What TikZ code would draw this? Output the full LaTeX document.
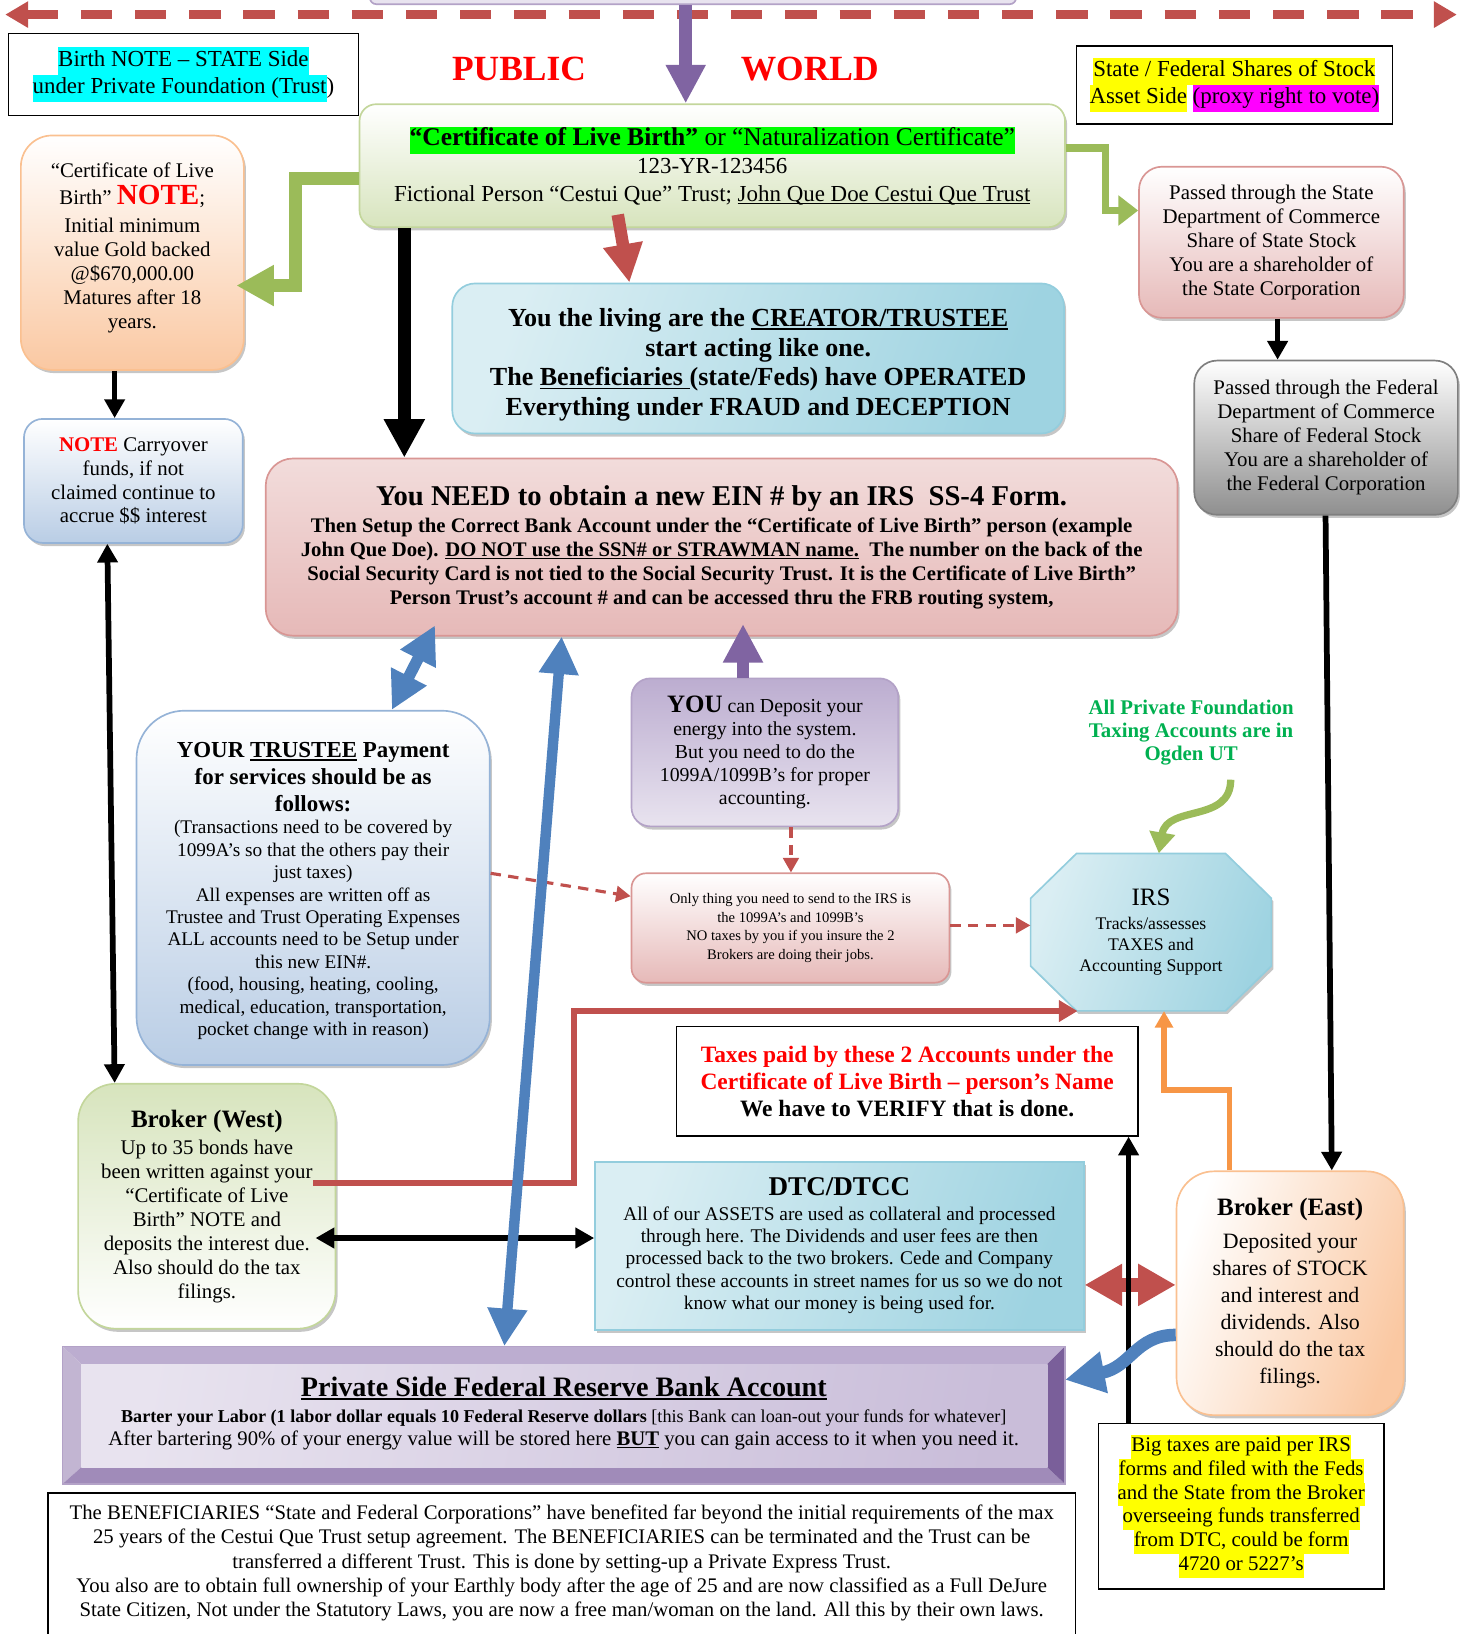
\documentclass[tikz,border=0pt]{standalone}
\usepackage{fontspec}
\setmainfont{Liberation Serif}
\usetikzlibrary{arrows.meta,shadows}
\definecolor{accred}{HTML}{C0504D}
\definecolor{accgreen}{HTML}{9BBB59}
\definecolor{accpurple}{HTML}{8064A2}
\definecolor{accblue}{HTML}{4F81BD}
\definecolor{accorange}{HTML}{F79646}
\definecolor{hlgreen}{HTML}{00FF00}
\definecolor{hlcyan}{HTML}{00FFFF}
\definecolor{hlyellow}{HTML}{FFFF00}
\definecolor{hlmagenta}{HTML}{FF00FF}
\definecolor{txtred}{HTML}{FF0000}
\definecolor{txtgreen}{HTML}{00B050}
\definecolor{certline}{HTML}{C3D69B}
\definecolor{certfill}{HTML}{D7E4BD}
\definecolor{orline}{HTML}{FAC090}
\definecolor{orfill}{HTML}{FAC8A2}
\definecolor{bluline}{HTML}{95B3D7}
\definecolor{blufill}{HTML}{B9CDE5}
\definecolor{aqline}{HTML}{93CDDD}
\definecolor{aqdark}{HTML}{9ED3E1}
\definecolor{aqlight}{HTML}{DAEEF3}
\definecolor{pkline}{HTML}{D99694}
\definecolor{pkfill}{HTML}{E6B9B8}
\definecolor{pklight}{HTML}{F2DCDB}
\definecolor{gyline}{HTML}{7F7F7F}
\definecolor{gyfill}{HTML}{8F8F8F}
\definecolor{puline}{HTML}{B3A2C7}
\definecolor{pufill}{HTML}{BCADD0}
\definecolor{pulight}{HTML}{E8E3EF}
\newsavebox{\undlbox}
\newcommand{\undl}[1]{\sbox{\undlbox}{#1}\rlap{\rule[-.14em]{\wd\undlbox}{.065em}}\usebox{\undlbox}}
\newcommand{\hlt}[2]{{\setlength{\fboxsep}{0pt}\colorbox{#1}{\strut#2}}}
\newcommand{\fsz}[2]{\fontsize{#1}{#2}\selectfont}
\begin{document}
\begin{tikzpicture}[x=1pt,y=-1pt,
  box/.style={draw,align=center,inner sep=0pt,line width=1.6pt},
  shd/.style={drop shadow={shadow xshift=2pt,shadow yshift=-3pt,opacity=.45,fill=gray}},
  blk/.style={line width=5.5pt,-{Triangle[length=18pt,width=19pt]}},
  blkboth/.style={line width=5.5pt,{Triangle[length=18pt,width=19pt]}-{Triangle[length=18pt,width=19pt]}},
  fatblk/.style={line width=12pt,-{Triangle[length=37pt,width=37pt]}},
  fatred/.style={accred,line width=12pt,-{Triangle[length=37pt,width=36pt]}},
  fatpurple/.style={accpurple,line width=12pt,-{Triangle[length=37pt,width=36pt]}},
  fatblue/.style={accblue,line width=11pt,{Triangle[length=36pt,width=36pt]}-{Triangle[length=36pt,width=36pt]}},
  fatgreen/.style={accgreen,line width=12.5pt,-{Triangle[length=36pt,width=37pt]}},
  reddash/.style={accred,line width=3pt,dash pattern=on 10pt off 7pt,-{Triangle[length=14pt,width=15pt]}}]
\useasboundingbox (0,0) rectangle (1413,1568);

% top of the picture
\node[fill=pulight,draw=puline,line width=1.6pt,rounded corners=6pt,minimum width=620pt,minimum height=20pt] (top) at (665,-6) {};
\coordinate (wl) at (5,14);
\coordinate (wr) at (1398,14);
\draw[accred,line width=8pt,dash pattern=on 30pt off 22pt,{Triangle[length=22pt,width=24pt]}-{Triangle[length=22pt,width=24pt]}] (wl) -- (wr);

\node[box,line width=1.4pt,minimum width=336pt,minimum height=79pt,font=\fsz{22}{26}] (note) at (176,71.5)
  {\hlt{hlcyan}{Birth NOTE – STATE Side}\\\hlt{hlcyan}{under Private Foundation (Trust})};
\node[font=\bfseries\fsz{34}{38},text=txtred] (pub) at (498,66) {PUBLIC};
\node[font=\bfseries\fsz{34}{38},text=txtred] (world) at (777,66) {WORLD};
\node[box,line width=1.4pt,minimum width=303pt,minimum height=75pt,font=\fsz{22}{26}] (stock) at (1184.5,81.5)
  {\hlt{hlyellow}{State / Federal Shares of Stock}\\\hlt{hlyellow}{Asset Side} \hlt{hlmagenta}{(proxy right to vote)}};

% boxes
\node[box,shd,rounded corners=16pt,draw=certline,top color=white,bottom color=certfill,minimum width=677pt,minimum height=118pt,font=\fsz{22}{26.5}] (cert) at (683.5,159)
  {{\fsz{24.5}{26.5}\hlt{hlgreen}{\textbf{“Certificate of Live Birth”} or “Naturalization Certificate”}}\\123-YR-123456\\Fictional Person “Cestui Que” Trust; \undl{John Que Doe Cestui Que Trust}};
\node[box,shd,rounded corners=30pt,draw=orline,top color=white,bottom color=orfill,minimum width=214pt,minimum height=225pt,font=\fsz{20}{23}] (goldnote) at (127,242.5)
  {“Certificate of Live\\[3pt]Birth” {\color{txtred}\bfseries\fsz{28}{28}NOTE};\\[4pt]Initial minimum\\value Gold backed\\@\$670,000.00\\Matures after 18\\years.\\[-9pt]\mbox{}};
\node[box,shd,rounded corners=18pt,draw=bluline,top color=white,bottom color=blufill,minimum width=210pt,minimum height=119pt,font=\fsz{20}{23}] (carry) at (128,461.5)
  {{\color{txtred}\bfseries NOTE} Carryover\\funds, if not\\claimed continue to\\accrue \$\$ interest};
\node[box,shd,rounded corners=22pt,draw=aqline,left color=aqlight,right color=aqdark,shading angle=70,minimum width=587pt,minimum height=144pt,font=\bfseries\fsz{25}{28.5}] (creator) at (727.5,344)
  {\mbox{}\\[1pt]You the living are the \undl{CREATOR/TRUSTEE}\\start acting like one.\\The \undl{Beneficiaries }(state/Feds) have OPERATED\\Everything under FRAUD and DECEPTION};
\node[box,shd,rounded corners=26pt,draw=pkline,top color=pklight,bottom color=pkfill,minimum width=875pt,minimum height=170pt,font=\bfseries\fsz{19.9}{23}] (need) at (692.5,525)
  {{\fsz{27.5}{30}You NEED to obtain a new EIN \# by an IRS~~SS-4 Form.}\\[3pt]Then Setup the Correct Bank Account under the “Certificate of Live Birth” person (example\\John Que Doe). \undl{DO NOT use the SSN\# or STRAWMAN name.}~~The number on the back of the\\Social Security Card is not tied to the Social Security Trust. It is the Certificate of Live Birth”\\Person Trust’s account \# and can be accessed thru the FRB routing system,};
\node[box,shd,rounded corners=22pt,draw=pkline,top color=white,bottom color=pkfill,minimum width=254pt,minimum height=145pt,font=\fsz{20}{23}] (statesh) at (1220,232.5)
  {Passed through the State\\Department of Commerce\\Share of State Stock\\You are a shareholder of\\the State Corporation};
\node[box,shd,rounded corners=22pt,draw=gyline,top color=white,bottom color=gyfill,minimum width=253pt,minimum height=148pt,font=\fsz{20}{23}] (fedsh) at (1272.5,420)
  {Passed through the Federal\\Department of Commerce\\Share of Federal Stock\\You are a shareholder of\\the Federal Corporation};
\node[box,shd,rounded corners=46pt,draw=bluline,top color=white,bottom color=blufill,minimum width=339pt,minimum height=340pt,font=\fsz{18.5}{21.5}] (trustee) at (300.5,852)
  {\mbox{}\\[-1pt]{\bfseries\fsz{22}{26}YOUR \undl{TRUSTEE} Payment}\\[4.5pt]{\bfseries\fsz{22}{26}for services should be as}\\[4.5pt]{\bfseries\fsz{22}{26}follows:}\\(Transactions need to be covered by\\1099A’s so that the others pay their\\just taxes)\\All expenses are written off as\\Trustee and Trust Operating Expenses\\ALL accounts need to be Setup under\\this new EIN\#.\\(food, housing, heating, cooling,\\medical, education, transportation,\\pocket change with in reason)};
\node[box,shd,rounded corners=18pt,draw=puline,top color=pufill,bottom color=pulight,minimum width=256pt,minimum height=142pt,font=\fsz{19}{22}] (deposit) at (734,722)
  {{\bfseries\fsz{24}{24}YOU} can Deposit your\\energy into the system.\\But you need to do the\\1099A/1099B’s for proper\\accounting.};
\node[align=center,text=txtgreen,font=\bfseries\fsz{20}{22.5}] (ogden) at (1143,703)
  {All Private Foundation\\Taxing Accounts are in\\Ogden UT};
\node[box,shd,rounded corners=14pt,draw=pkline,top color=white,bottom color=pkfill,minimum width=305pt,minimum height=105pt,font=\fsz{14}{18}] (onlyirs) at (758.5,890.5)
  {Only thing you need to send to the IRS is\\the 1099A’s and 1099B’s\\NO taxes by you if you insure the 2\\Brokers are doing their jobs.};
% the IRS octagon
\path[draw=aqline,line width=1.6pt,shd,left color=aqlight,right color=aqdark,shading angle=70]
  (1033,819) -- (1176,819) -- (1220,862) -- (1220,927) -- (1176,970) -- (1033,970) -- (989,927) -- (989,862) -- cycle;
\node[align=center,inner sep=0pt,minimum width=231pt,minimum height=151pt,font=\fsz{17}{20}] (irs) at (1104.5,894.5)
  {{\fsz{24}{26}IRS}\\[3pt]Tracks/assesses\\TAXES and\\Accounting Support};
\node[box,line width=1.4pt,minimum width=443pt,minimum height=105pt,font=\bfseries\fsz{22.5}{26}] (taxes) at (870.5,1037.5)
  {{\color{txtred}Taxes paid by these 2 Accounts under the}\\{\color{txtred}Certificate of Live Birth – person’s Name}\\We have to VERIFY that is done.};
\node[box,shd,rounded corners=36pt,draw=certline,top color=certfill,bottom color=white,minimum width=247pt,minimum height=235pt,font=\fsz{20}{23}] (bwest) at (198.5,1157.5)
  {{\bfseries\fsz{24}{24}Broker (West)}\\[3pt]Up to 35 bonds have\\been written against your\\“Certificate of Live\\Birth” NOTE and\\deposits the interest due.\\Also should do the tax\\filings.};
\node[box,shd,draw=aqline,left color=aqlight,right color=aqdark,shading angle=70,minimum width=469pt,minimum height=161pt,font=\fsz{18.6}{21.5}] (dtc) at (805.5,1195.5)
  {{\bfseries\fsz{26}{26}DTC/DTCC}\\[2pt]All of our ASSETS are used as collateral and processed\\through here. The Dividends and user fees are then\\processed back to the two brokers. Cede and Company\\control these accounts in street names for us so we do not\\know what our money is being used for.};
\node[box,shd,rounded corners=36pt,draw=orline,left color=white,right color=orfill,shading angle=70,minimum width=218pt,minimum height=234pt,font=\fsz{21}{26}] (beast) at (1238,1241)
  {{\bfseries\fsz{24}{26}Broker (East)}\\[6pt]Deposited your\\shares of STOCK\\and interest and\\dividends. Also\\should do the tax\\filings.};

% bank with bevel
\fill[pufill] (60,1292) -- (1022,1292) -- (1005,1309) -- (78,1309) -- cycle;
\fill[puline!80] (60,1292) -- (78,1309) -- (78,1408) -- (60,1424) -- cycle;
\fill[accpurple!75] (60,1424) -- (78,1408) -- (1005,1408) -- (1022,1424) -- cycle;
\fill[accpurple!95!black] (1022,1292) -- (1005,1309) -- (1005,1408) -- (1022,1424) -- cycle;
\shade[left color=pulight,right color=pufill!80,shading angle=80] (78,1309) rectangle (1005,1408);
\draw[puline,line width=1.2pt] (60,1292) rectangle (1022,1424);
\node[align=center,minimum width=962pt,minimum height=128pt,font=\fsz{17.4}{22}] (bank) at (541,1356)
  {{\bfseries\fsz{27}{30}\undl{Private Side Federal Reserve Bank Account}}\\[3pt]{\bfseries Barter your Labor (1 labor dollar equals 10 Federal Reserve dollars} [this Bank can loan-out your funds for whatever]\\{\fsz{19.9}{22}After bartering 90\% of your energy value will be stored here \undl{\textbf{BUT}} you can gain access to it when you need it.}};

\node[box,line width=1.4pt,anchor=north,minimum width=986pt,minimum height=150pt] (bene) at (539,1432) {};
\node[align=center,font=\fsz{19.9}{23.3}] (benetext) at (539,1500)
  {The BENEFICIARIES “State and Federal Corporations” have benefited far beyond the initial requirements of the max\\25 years of the Cestui Que Trust setup agreement. The BENEFICIARIES can be terminated and the Trust can be\\transferred a different Trust. This is done by setting-up a Private Express Trust.\\You also are to obtain full ownership of your Earthly body after the age of 25 and are now classified as a Full DeJure\\State Citizen, Not under the Statutory Laws, you are now a free man/woman on the land. All this by their own laws.};
\node[box,line width=1.4pt,minimum width=274pt,minimum height=159pt,font=\fsz{20}{22.8}] (bigtax) at (1191,1445.5)
  {\hlt{hlyellow}{Big taxes are paid per IRS}\\\hlt{hlyellow}{forms and filed with the Feds}\\\hlt{hlyellow}{and the State from the Broker}\\\hlt{hlyellow}{overseeing funds transferred}\\\hlt{hlyellow}{from DTC, could be form}\\\hlt{hlyellow}{4720 or 5227’s}};

% connectors
\draw[fatpurple] (658,0 |- top.south) -- (658,0 |- cert.north);
\draw[fatgreen,shorten >=-8pt] (cert.west |- 0,171) -| (284,274) -- (goldnote.east |- 0,274);
\draw[accgreen,line width=7pt,-{Triangle[length=19pt,width=28pt]}] (cert.east |- 0,142) -| (1061,202) -- (statesh.west |- 0,202);
\draw[blk] (110,0 |- goldnote.south) -- (110,0 |- carry.north);
\draw[blkboth] (103,0 |- carry.south) -- (110,0 |- bwest.north);
\draw[fatblk] (388,0 |- cert.south) -- (388,0 |- need.north);
\draw[fatred,shorten <=-13pt] (595,0 |- cert.south) -- (604,0 |- creator.north);
\draw[blk] (1226,0 |- statesh.south) -- (1226,0 |- fedsh.north);
\draw[blk] (1272,0 |- fedsh.south) -- (1278,0 |- beast.north);
\draw[fatblue,shorten <=-12pt] (412,0 |- need.south) -- (376,0 |- trustee.north);
\draw[fatpurple,shorten >=-12pt] (713,0 |- deposit.north) -- (713,0 |- need.south);
\draw[accgreen,line width=7pt,-{Triangle[length=20pt,width=24pt]},shorten <=10pt] (1181,0 |- ogden.south) .. controls (1181,790) and (1120,772) .. (1112,0 |- irs.north);
\draw[reddash] (759,0 |- deposit.south) -- (759,0 |- onlyirs.north);
\draw[reddash] (trustee.east |- 0,838) -- (onlyirs.west |- 0,860);
\draw[reddash] (onlyirs.east |- 0,888) -- (irs.west |- 0,888);
\draw[accred,line width=6pt,-{Triangle[length=18pt,width=20pt]},shorten <=-22pt] (bwest.east |- 0,1135) -| (551,0 |- irs.south) -- (1034,0 |- irs.south);
\draw[accorange,line width=5pt,-{Triangle[length=16pt,width=17pt]}] (1180,0 |- beast.north) |- (1117,1046) -- (1117,0 |- irs.south);
\draw[blkboth,shorten <=-20pt] (bwest.east |- 0,1188) -- (dtc.west |- 0,1188);
\draw[accred,line width=14pt,{Triangle[length=36pt,width=38pt]}-{Triangle[length=36pt,width=38pt]}] (dtc.east |- 0,1233) -- (beast.west |- 0,1233);
\draw[blk] (1083,0 |- bigtax.north) -- (1083,0 |- taxes.south);
\draw[accblue,line width=12pt,-{Triangle[length=38pt,width=38pt]}] (beast.west |- 0,1281) .. controls (1090,1281) and (1085,1312) .. (1022,1324);
\draw[fatblue,line width=10pt] (539,0 |- need.south) -- (484,0 |- bank.north);
\end{tikzpicture}
\end{document}
